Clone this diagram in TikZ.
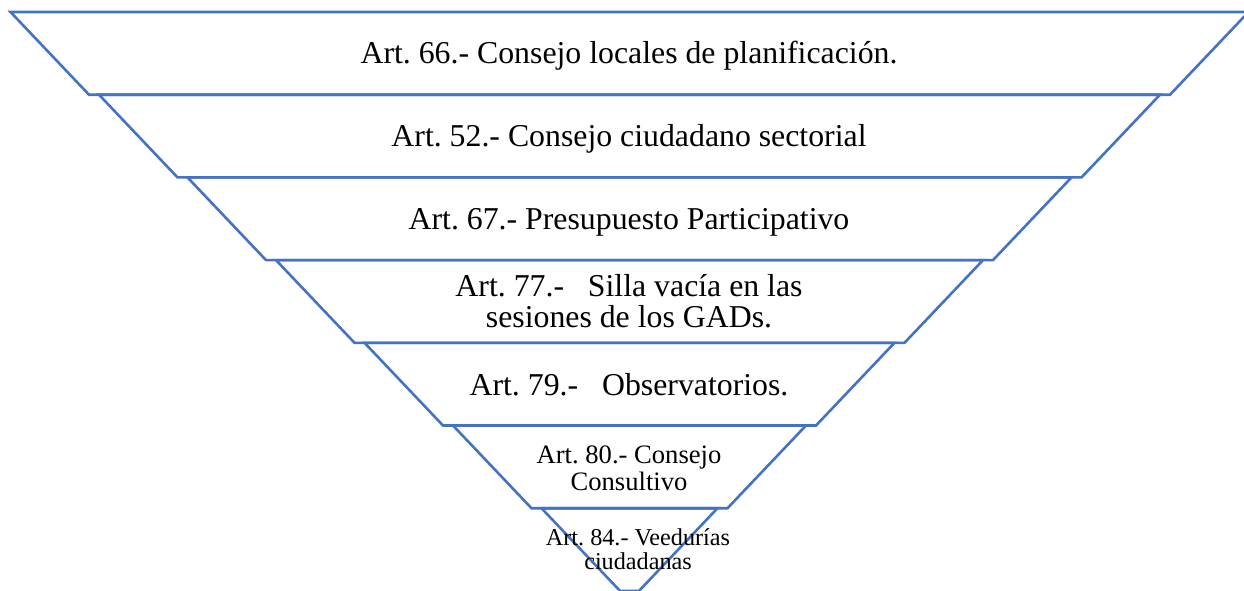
\documentclass[tikz,border=0pt]{standalone}
\usepackage{fontspec}
\setmainfont{Liberation Serif}
\definecolor{accblue}{HTML}{4472C4}
\tikzset{
  layer/.style={draw=accblue, line width=2.6pt, line join=miter},
  lbl/.style={inner sep=0pt, anchor=base, text=black},
  bigtxt/.style={font=\fontsize{31.8}{30.3}\selectfont},
  midtxt/.style={font=\fontsize{26.6}{27}\selectfont},
  smalltxt/.style={font=\fontsize{24.2}{22.6}\selectfont}
}
\begin{document}
\begin{tikzpicture}[x=1pt,y=-1pt]
\frenchspacing
\useasboundingbox (0,0) rectangle (1244,590);
\foreach \i in {0,...,6}{
  \pgfmathsetmacro{\ty}{12+82.7*\i}
  \pgfmathsetmacro{\by}{\ty+82.7}
  \pgfmathsetmacro{\tl}{10.5+88.5*\i}
  \pgfmathsetmacro{\bl}{\tl+78.5}
  \pgfmathsetmacro{\tr}{1259-\tl}
  \pgfmathsetmacro{\br}{1259-\bl}
  \draw[layer] (\tl,\ty) -- (\bl,\by) -- (\br,\by) -- (\tr,\ty) -- cycle;
}
\node[lbl,bigtxt] (t1) at (629,63.8) {Art. 66.- Consejo locales de planificación.};
\node[lbl,bigtxt] (t2) at (629,146.5) {Art. 52.- Consejo ciudadano sectorial};
\node[lbl,bigtxt] (t3) at (629,229.3) {Art. 67.- Presupuesto Participativo};
\node[lbl,bigtxt] (t4) at (629,296.7) {\begin{tabular}[t]{@{}c@{}}Art. 77.-\ \ \ Silla vacía en las\\ sesiones de los GADs.\end{tabular}};
\node[lbl,bigtxt] (t5) at (629,395.2) {Art. 79.-\ \ \ Observatorios.};
\node[lbl,midtxt] (t6) at (629,463) {\begin{tabular}[t]{@{}c@{}}Art. 80.- Consejo\\ Consultivo\end{tabular}};
\node[lbl,smalltxt] (t7) at (638,545.7) {\begin{tabular}[t]{@{}c@{}}Art. 84.- Veedurías\\ ciudadanas\end{tabular}};
\end{tikzpicture}
\end{document}
